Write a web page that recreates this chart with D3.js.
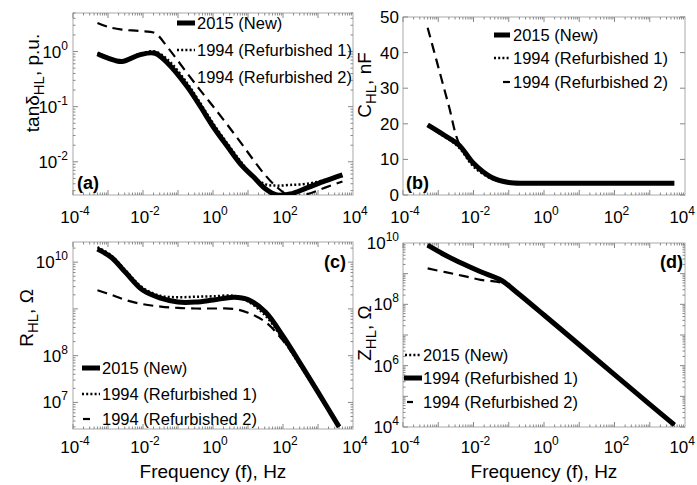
<!DOCTYPE html>
<html>
<head>
<meta charset="utf-8">
<script src="https://cdn.jsdelivr.net/npm/d3@7"></script>
<style>
  body { margin: 0; background: #fff; }
  svg { font-family: "Liberation Sans", Arial, sans-serif; }
</style>
</head>
<body>
<div id="chart"></div>
<script>
// ---- data ----
// (a) dissipation factor
const freqA = [5e-4, 1e-3, 2.5e-3, 8e-3, 0.022, 0.05, 0.18, 0.43, 1, 2.5, 6.3, 14, 32, 66, 160, 500, 1600, 5000];
const tanNew  = [0.91, 0.76, 0.66, 0.87, 0.93, 0.62, 0.234, 0.102, 0.0437, 0.0195, 0.0089, 0.0054, 0.0032, 0.0025, 0.0026, 0.0034, 0.0045, 0.0058];
const tanRef1 = [0.95, 0.79, 0.68, 0.91, 1.0, 0.72, 0.27, 0.117, 0.05, 0.022, 0.01, 0.0054, 0.0039, 0.0037, 0.0038, 0.004, 0.0047, 0.0058];
const tanRef2 = [3.3, 2.8, 2.5, 2.35, 2.15, 1.2, 0.41, 0.2, 0.102, 0.048, 0.022, 0.011, 0.0056, 0.0035, 0.0024, 0.0026, 0.0034, 0.0044];

// (b) capacitance, nF
const freqB = [5e-4, 1e-3, 2e-3, 4e-3, 0.01, 0.032, 0.1, 0.32, 1, 10, 100, 1000, 5000];
const capNew  = [19.7, 17.9, 16.0, 13.9, 8.9, 5.0, 3.5, 3.3, 3.3, 3.3, 3.3, 3.3, 3.3];
const capRef1 = [19.5, 17.5, 15.6, 13.2, 8.0, 4.6, 3.4, 3.3, 3.3, 3.3, 3.3, 3.3, 3.3];
const capRef2 = [47, 36, 25, 14.2, 8.9, 5.0, 3.5, 3.3, 3.3, 3.3, 3.3, 3.3, 3.3];

// (c) resistance, ohm
const freqC = [5e-4, 1.26e-3, 3.2e-3, 0.01, 0.032, 0.1, 0.32, 1, 4, 10, 32, 100, 320, 1000, 4000];
const resNew  = [1.9e10, 1.26e10, 6.0e9, 2.5e9, 1.7e9, 1.4e9, 1.4e9, 1.55e9, 1.78e9, 1.58e9, 8.5e8, 2.6e8, 6.6e7, 1.66e7, 3.0e6];
const resRef1 = [2.1e10, 1.38e10, 6.6e9, 2.8e9, 1.9e9, 1.78e9, 1.82e9, 1.86e9, 1.9e9, 1.45e9, 7.1e8, 2.24e8, 5.9e7, 1.58e7, 2.95e6];
const resRef2 = [2.5e9, 2.0e9, 1.55e9, 1.26e9, 1.12e9, 1.05e9, 1.02e9, 1.02e9, 1.0e9, 8.3e8, 5.2e8, 2.1e8, 6.3e7, 1.66e7, 2.9e6];

// (d) impedance, ohm
const freqD = [5e-4, 1.6e-3, 5e-3, 0.016, 0.063, 0.14, 1, 10, 100, 1000, 5000];
const impNew  = [8.5e9, 4.0e9, 2.1e9, 1.15e9, 6.0e8, 2.95e8, 4.5e7, 4.8e6, 5.1e5, 5.5e4, 1.17e4];
const impRef1 = [8.5e9, 4.0e9, 2.1e9, 1.15e9, 6.0e8, 2.95e8, 4.5e7, 4.8e6, 5.1e5, 5.5e4, 1.17e4];
const impRef2 = [1.48e9, 1.12e9, 8.5e8, 6.3e8, 5.0e8, 2.95e8, 4.5e7, 4.8e6, 5.1e5, 5.5e4, 1.17e4];

const seriesNames = ['2015 (New)', '1994 (Refurbished 1)', '1994 (Refurbished 2)'];
const xTickExps = [-4, -2, 0, 2, 4];
const tanTickExps = [-2, -1, 0];
const capTicks = [0, 10, 20, 30, 40, 50];
const resTickExps = [7, 8, 10];
const impTickExps = [4, 6, 8, 10];

// ---- drawing ----
const svg = d3.select('#chart').append('svg').attr('width', 697).attr('height', 485);

const styles = {
  solid: { w: 5, dash: null },
  dotted: { w: 2.5, dash: '2,2.2' },
  dashed: { w: 2.2, dash: '10,6' }
};

function supLabel(sel, exp) {
  sel.append('tspan').text('10');
  sel.append('tspan').attr('dy', -8).attr('font-size', 12).text(exp);
}

let clipId = 0;
function panel(cfg) {
  const g = svg.append('g');
  const x = d3.scaleLog().domain([1e-4, 1e4]).range([cfg.x0, cfg.x1]);
  const y = cfg.yLog
    ? d3.scaleLog().domain(cfg.yDomain).range([cfg.y1, cfg.y0])
    : d3.scaleLinear().domain(cfg.yDomain).range([cfg.y1, cfg.y0]);

  const id = 'clip' + (clipId++);
  g.append('clipPath').attr('id', id).append('rect')
    .attr('x', cfg.x0).attr('y', cfg.y0)
    .attr('width', cfg.x1 - cfg.x0).attr('height', cfg.y1 - cfg.y0);

  // frame
  g.append('rect')
    .attr('x', cfg.x0).attr('y', cfg.y0)
    .attr('width', cfg.x1 - cfg.x0).attr('height', cfg.y1 - cfg.y0)
    .attr('fill', 'none').attr('stroke', '#aaa').attr('stroke-width', 1);

  // x ticks (log, major + minor) on top and bottom
  const tk = g.append('g').attr('stroke', '#888').attr('stroke-width', 1);
  for (let e = -4; e < 4; e++) {
    for (let k = 1; k < 10; k++) {
      const px = x(k * Math.pow(10, e));
      const len = k === 1 ? 5 : 2.5;
      tk.append('line').attr('x1', px).attr('x2', px).attr('y1', cfg.y1).attr('y2', cfg.y1 - len);
      tk.append('line').attr('x1', px).attr('x2', px).attr('y1', cfg.y0).attr('y2', cfg.y0 + len);
    }
  }
  // y ticks
  if (cfg.yLog) {
    const lo = Math.floor(Math.log10(cfg.yDomain[0])), hi = Math.ceil(Math.log10(cfg.yDomain[1]));
    for (let e = lo; e < hi; e++) {
      for (let k = 1; k < 10; k++) {
        const v = k * Math.pow(10, e);
        if (v < cfg.yDomain[0] || v > cfg.yDomain[1]) continue;
        const py = y(v);
        const len = k === 1 ? 5 : 2.5;
        tk.append('line').attr('y1', py).attr('y2', py).attr('x1', cfg.x0).attr('x2', cfg.x0 + len);
        tk.append('line').attr('y1', py).attr('y2', py).attr('x1', cfg.x1).attr('x2', cfg.x1 - len);
      }
    }
  } else {
    cfg.yTicks.forEach(v => {
      const py = y(v);
      tk.append('line').attr('y1', py).attr('y2', py).attr('x1', cfg.x0).attr('x2', cfg.x0 + 5);
      tk.append('line').attr('y1', py).attr('y2', py).attr('x1', cfg.x1).attr('x2', cfg.x1 - 5);
    });
  }

  // series
  const line = d3.line()
    .x(d => x(d[0]))
    .y(d => y(d[1]))
    .curve(d3.curveCatmullRom.alpha(0.5));
  const lines = g.append('g').attr('clip-path', 'url(#' + id + ')');
  cfg.series.forEach(s => {
    const st = styles[s.style];
    lines.append('path')
      .datum(s.f.map((f, i) => [f, s.v[i]]))
      .attr('d', line)
      .attr('fill', 'none')
      .attr('stroke', '#000')
      .attr('stroke-width', st.w)
      .attr('stroke-dasharray', st.dash)
      .attr('stroke-linejoin', 'round');
  });

  // x tick labels (keep the last one inside the page)
  xTickExps.forEach(e => {
    const px = x(Math.pow(10, e)) + 2;
    const edge = px + 14 > 695;
    const t = g.append('text')
      .attr('x', edge ? 695 : px).attr('y', cfg.xLabelY)
      .attr('text-anchor', edge ? 'end' : 'middle').attr('font-size', 17);
    supLabel(t, e);
  });
  // y tick labels
  if (cfg.yLog) {
    cfg.yTickExps.forEach(e => {
      const t = g.append('text')
        .attr('x', cfg.yLabelX).attr('y', y(Math.pow(10, e)) + 6)
        .attr('text-anchor', 'end').attr('font-size', 17);
      supLabel(t, e);
    });
  } else {
    cfg.yTicks.forEach(v => {
      g.append('text')
        .attr('x', cfg.yLabelX).attr('y', y(v) + 6)
        .attr('text-anchor', 'end').attr('font-size', 17)
        .text(v);
    });
  }

  // y title
  const yt = g.append('text')
    .attr('transform', 'translate(' + cfg.yTitle.x + ',' + cfg.yTitle.y + ') rotate(-90)')
    .attr('text-anchor', 'middle').attr('font-size', 19);
  yt.append('tspan').text(cfg.yTitle.main);
  yt.append('tspan').attr('dy', 5).attr('font-size', 15).text('HL');
  yt.append('tspan').attr('dy', -5).text(cfg.yTitle.unit);

  // x title
  if (cfg.xTitleY) {
    g.append('text')
      .attr('x', (cfg.x0 + cfg.x1) / 2).attr('y', cfg.xTitleY)
      .attr('text-anchor', 'middle').attr('font-size', 19)
      .text('Frequency (f), Hz');
  }

  // panel tag
  g.append('text')
    .attr('x', cfg.tag.x).attr('y', cfg.tag.y)
    .attr('font-size', 18).attr('font-weight', 'bold')
    .text(cfg.tag.text);

  // legend
  cfg.legend.forEach(l => {
    const st = styles[l.style];
    if (l.sx) {
      g.append('line')
        .attr('x1', l.sx[0]).attr('x2', l.sx[1]).attr('y1', l.y).attr('y2', l.y)
        .attr('stroke', '#000').attr('stroke-width', st.w)
        .attr('stroke-dasharray', st.dash);
    }
    g.append('text')
      .attr('x', l.tx).attr('y', l.y + 6)
      .attr('font-size', 16.5)
      .text(l.label);
  });
}

panel({
  x0: 73, x1: 353, y0: 13, y1: 195,
  yLog: true, yDomain: [2.5e-3, 5], yTickExps: tanTickExps,
  xLabelY: 223, yLabelX: 68,
  yTitle: { x: 39, y: 83, main: 'tan\u03B4', unit: ', p.u.' },
  tag: { x: 77, y: 189, text: '(a)' },
  series: [
    { f: freqA, v: tanRef2, style: 'dashed' },
    { f: freqA, v: tanRef1, style: 'dotted' },
    { f: freqA, v: tanNew, style: 'solid' }
  ],
  legend: [
    { label: seriesNames[0], style: 'solid', sx: [177, 195], tx: 197, y: 23 },
    { label: seriesNames[1], style: 'dotted', sx: [177, 195], tx: 197, y: 50 },
    { label: seriesNames[2], style: 'dashed', sx: null, tx: 197, y: 77 }
  ]
});

panel({
  x0: 403, x1: 685, y0: 17, y1: 195,
  yLog: false, yDomain: [0, 50], yTicks: capTicks,
  xLabelY: 223, yLabelX: 399,
  yTitle: { x: 371, y: 85, main: 'C', unit: ', nF' },
  tag: { x: 406, y: 189, text: '(b)' },
  series: [
    { f: freqB, v: capRef2, style: 'dashed' },
    { f: freqB, v: capRef1, style: 'dotted' },
    { f: freqB, v: capNew, style: 'solid' }
  ],
  legend: [
    { label: seriesNames[0], style: 'solid', sx: [494, 510], tx: 513, y: 35 },
    { label: seriesNames[1], style: 'dotted', sx: [494, 510], tx: 513, y: 58 },
    { label: seriesNames[2], style: 'dashed', sx: [503, 510], tx: 513, y: 82 }
  ]
});

panel({
  x0: 73, x1: 353, y0: 242, y1: 429,
  yLog: true, yDomain: [2.7e6, 2.7e10], yTickExps: resTickExps,
  xLabelY: 453, yLabelX: 68, xTitleY: 478,
  yTitle: { x: 33, y: 318, main: 'R', unit: ', \u03A9' },
  tag: { x: 324, y: 268, text: '(c)' },
  series: [
    { f: freqC, v: resRef2, style: 'dashed' },
    { f: freqC, v: resRef1, style: 'dotted' },
    { f: freqC, v: resNew, style: 'solid' }
  ],
  legend: [
    { label: seriesNames[0], style: 'solid', sx: [82, 100], tx: 102, y: 368 },
    { label: seriesNames[1], style: 'dotted', sx: [82, 100], tx: 102, y: 394 },
    { label: seriesNames[2], style: 'dashed', sx: [83, 90], tx: 102, y: 419 }
  ]
});

panel({
  x0: 403, x1: 685, y0: 243, y1: 427,
  yLog: true, yDomain: [1e4, 1e10], yTickExps: impTickExps,
  xLabelY: 453, yLabelX: 399, xTitleY: 478,
  yTitle: { x: 371, y: 333, main: 'Z', unit: ', \u03A9' },
  tag: { x: 660, y: 268, text: '(d)' },
  series: [
    { f: freqD, v: impRef2, style: 'dashed' },
    { f: freqD, v: impRef1, style: 'dotted' },
    { f: freqD, v: impNew, style: 'solid' }
  ],
  legend: [
    { label: seriesNames[0], style: 'dotted', sx: [405, 420], tx: 423, y: 355 },
    { label: seriesNames[1], style: 'solid', sx: [404, 422], tx: 423, y: 378 },
    { label: seriesNames[2], style: 'dashed', sx: [407, 413], tx: 423, y: 402 }
  ]
});
</script>
</body>
</html>
